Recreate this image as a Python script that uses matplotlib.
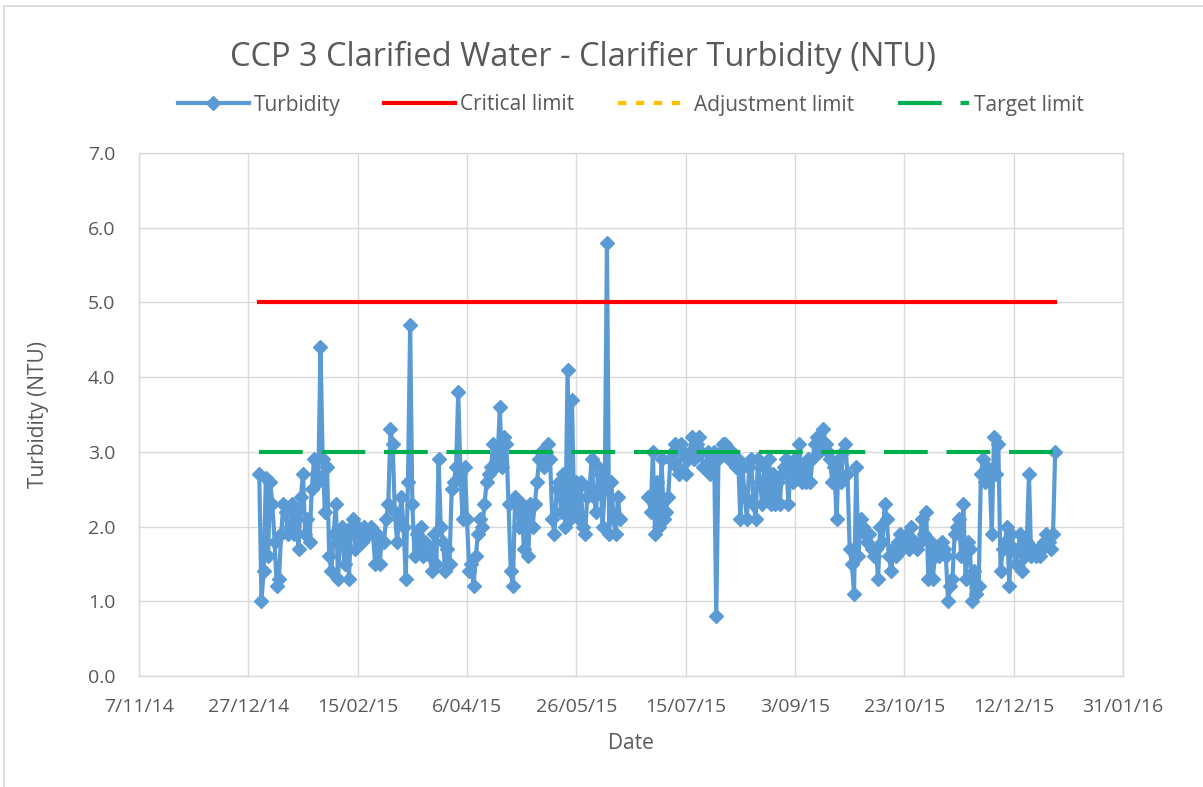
import matplotlib
matplotlib.use("Agg")
import matplotlib.pyplot as plt
from matplotlib.patches import Rectangle
from matplotlib.ticker import FuncFormatter, MultipleLocator
import matplotlib.dates as mdates
import numpy as np
import pandas as pd

nan = np.nan

# daily clarifier turbidity readings for 2015, one list per month (NTU)
jan = [2.7, 1.0, 1.4, 2.65, 1.6, 2.6, 2.3, 1.8, 1.2, 1.3, 1.9, 2.3, 2.2, 1.9, 2.0,
       2.3, 1.9, 2.2, 1.7, 2.4, 2.7, 1.9, 2.1, 1.8, 2.5, 2.9, 2.7, 2.6, 4.4, 2.9, 2.2]
feb = [2.8, 1.6, 1.4, 1.9, 2.3, 1.3, 1.8, 2.0, 1.5, 1.9, 1.3, 2.0, 2.1, 1.7, 2.0,
       1.9, 1.8, 2.0, 1.9, 1.9, 2.0, 1.9, 1.5, 1.9, 1.5, 1.8, 1.8, 2.1]
mar = [2.3, 3.3, 3.1, 2.2, 1.8, 2.1, 2.4, 2.0, 1.3, 2.6, 4.7, 2.3, 1.6, 1.9, 1.7,
       2.0, 1.6, 1.8, 1.7, 1.6, 1.4, 1.9, 1.5, 2.9, 2.0, 1.8, 1.4, 1.7, 1.5, 2.5, 2.6]
apr = [2.8, 3.8, 2.7, 2.1, 2.8, 2.1, 1.4, 1.5, 1.2, 1.6, 1.9, 2.1, 2.0, 2.3, 2.6,
       2.7, 2.8, 3.1, 2.8, 2.9, 3.6, 2.8, 3.2, 3.1, 2.3, 1.4, 1.2, 2.4, 2.3, 2.0]
may = [2.3, 1.7, 2.2, 1.6, 2.3, 2.0, 2.3, 2.6, 2.9, 3.0, 2.8, 3.0, 3.1, 2.9, 2.1,
       1.9, 2.5, 2.6, 2.2, 2.7, 2.0, 4.1, 2.1, 3.7, 2.2, 2.6, 2.1, 2.6, 2.0, 1.9, 2.4]
jun = [2.5, 2.9, 2.4, 2.2, 2.8, 2.7, 2.0, 2.5, 5.8, 1.9, 2.6, 2.1, 1.9, 2.4, 2.1,
       nan, nan, nan, nan, nan, nan, nan, nan, nan, nan, nan, nan, 2.4, 2.2, 3.0]
jul = [1.9, 2.6, 2.0, 2.9, 2.1, 2.2, 2.4, 2.9, 3.0, 3.1, 2.8, 2.7, 3.1, 3.0, 2.7,
       2.9, 3.0, 3.2, 2.9, 3.1, 3.2, 3.0, 2.8, 2.8, 3.0, 2.7, 2.9, 3.0, 0.8, 2.9, 3.0]
aug = [3.1, 3.1, 3.0, 2.9, 3.0, 2.9, 2.8, 2.9, 2.1, 2.8, 2.4, 2.1, 2.8, 2.9, 2.3,
       2.1, 2.9, 2.6, 2.3, 2.8, 2.4, 2.9, 2.3, 2.7, 2.3, 2.6, 2.3, 2.7, 2.8, 2.9, 2.3]
sep = [2.8, 2.6, 2.9, 2.7, 3.1, 2.6, 2.8, 2.6, 2.9, 2.6, 2.9, 3.1, 3.2, 3.0, 3.1,
       3.3, 3.1, 3.0, 2.9, 2.6, 2.8, 2.1, 2.9, 2.6, 3.0, 3.1, 2.7, 1.7, 1.5, 1.1]
oct_ = [2.8, 1.6, 2.1, 2.0, 1.9, 1.8, 1.9, 1.7, 1.6, 1.7, 1.3, 2.0, 1.8, 2.3, 2.1,
        1.6, 1.4, 1.7, 1.6, 1.8, 1.9, 1.7, 1.8, 1.9, 1.7, 2.0, 1.8, 1.8, 1.7, 1.8, 2.1]
nov = [1.9, 2.2, 1.3, 1.8, 1.3, 1.6, 1.7, 1.6, 1.8, 1.7, 1.6, 1.0, 1.2, 1.3, 1.9,
       2.0, 2.1, 1.6, 2.3, 1.3, 1.8, 1.7, 1.0, 1.4, 1.1, 1.2, 2.7, 2.9, 2.6, 2.8]
dec = [2.7, 1.9, 3.2, 2.7, 3.1, 1.4, 1.7, 1.8, 2.0, 1.2, 1.9, 1.7, 1.5, 1.7, 1.9,
       1.4, 1.6, 1.8, 2.7, 1.6, 1.7, 1.6, 1.7, 1.6, 1.7, 1.8, 1.9, 1.8, 1.7, 1.9, 3.0]

turbidity = jan + feb + mar + apr + may + jun + jul + aug + sep + oct_ + nov + dec
dates = pd.date_range("2015-01-01", "2015-12-31", freq="D")

limit_dates = [pd.Timestamp("2015-01-01"), pd.Timestamp("2015-12-31")]
critical_limit = [5.0, 5.0]
adjustment_limit = [nan, nan]   # not visible in plot area, legend only
target_limit = [3.0, 3.0]

x_ticks = pd.date_range("2014-11-07", "2016-01-31", freq="50D")

plt.rcParams['font.family'] = ['Open Sans', 'DejaVu Sans']
txt = "#595959"
grid = "#D9D9D9"

fig = plt.figure(figsize=(12.03, 7.87), dpi=100)
fig.patches.append(Rectangle((4 / 1203, -0.02), 1.1, 1 - 6 / 787 + 0.02,
                             transform=fig.transFigure, fill=False,
                             edgecolor=grid, linewidth=1.2))

ax = fig.add_axes([139 / 1203, 1 - 676 / 787, (1123 - 139) / 1203, (676 - 153) / 787])

ax.plot(dates, turbidity, color="#5B9BD5", linewidth=3, marker="D",
        markersize=7.5, label="Turbidity", zorder=3)
ax.plot(limit_dates, critical_limit, color="#FF0000", linewidth=3,
        label="Critical limit", zorder=4)
ax.plot(limit_dates, adjustment_limit, color="#FFC000", linewidth=3,
        linestyle=(0, (2.0, 2.3)), label="Adjustment limit", zorder=4)
ax.plot(limit_dates, target_limit, color="#00B050", linewidth=3,
        linestyle=(0, (10.5, 4.5)), dash_capstyle="butt", label="Target limit", zorder=5)

ax.set_xlim(x_ticks[0], x_ticks[-1])
ax.set_ylim(0, 7)
ax.set_xticks(x_ticks)
ax.xaxis.set_major_formatter(FuncFormatter(
    lambda v, p: "{}/{:02d}/{:02d}".format(mdates.num2date(v).day,
                                           mdates.num2date(v).month,
                                           mdates.num2date(v).year % 100)))
ax.yaxis.set_major_locator(MultipleLocator(1.0))
ax.yaxis.set_major_formatter(FuncFormatter(lambda v, p: "%.1f" % v))

ax.grid(True, color=grid, linewidth=1.0, zorder=0)
ax.set_axisbelow(True)
for s in ax.spines.values():
    s.set_color(grid)
    s.set_linewidth(1.0)
ax.tick_params(length=0, labelsize=14, colors=txt)
ax.tick_params(axis="y", pad=17)
ax.tick_params(axis="x", pad=16)

ax.set_xlabel("Date", fontsize=15, color=txt, labelpad=12)
ax.set_ylabel("Turbidity (NTU)", fontsize=15, color=txt, labelpad=28)

fig.text(583 / 1203, 1 - 57 / 787, "CCP 3 Clarified Water - Clarifier Turbidity (NTU)",
         ha="center", va="center", fontsize=23.5, color=txt)

leg = fig.legend(loc="center", bbox_to_anchor=(631 / 1203, 1 - 105 / 787), ncol=4,
                 frameon=False, fontsize=15, handlelength=3.4, columnspacing=2.1,
                 handletextpad=0.25, numpoints=1)
for t in leg.get_texts():
    t.set_color(txt)

fig.savefig("out.png", dpi=100)
